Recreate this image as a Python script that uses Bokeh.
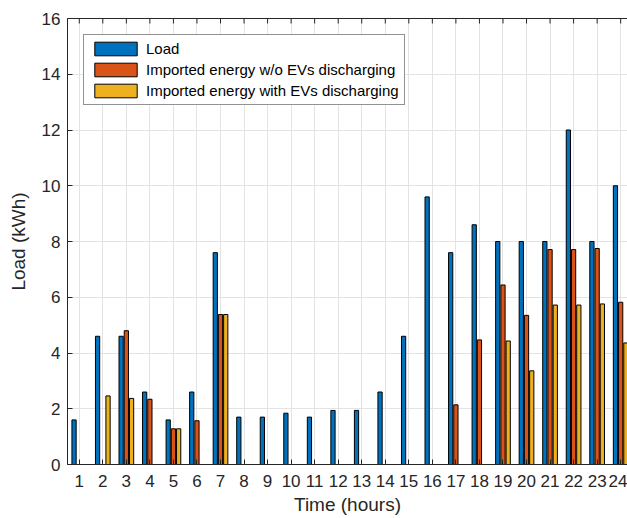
from bokeh.plotting import figure
from bokeh.models import ColumnDataSource, FixedTicker, LinearAxis, Range1d, Legend, LegendItem
from bokeh.transform import dodge
from bokeh.embed import file_html
from bokeh.resources import INLINE

# Hourly energy profile (kWh)
hours = list(range(1, 25))
load = [1.6, 4.6, 4.6, 2.6, 1.6, 2.6, 7.6, 1.7, 1.7, 1.84, 1.7, 1.94,
        1.94, 2.6, 4.6, 9.6, 7.6, 8.6, 8.0, 8.0, 8.0, 12.0, 8.0, 10.0]
imported_no_ev = [0, 0, 4.8, 2.34, 1.28, 1.57, 5.38, 0, 0, 0, 0, 0,
                  0, 0, 0, 0, 2.14, 4.47, 6.44, 5.35, 7.71, 7.71, 7.75, 5.82]
imported_with_ev = [0, 2.46, 2.37, 0, 1.28, 0, 5.38, 0, 0, 0, 0, 0,
                    0, 0, 0, 0, 0, 0, 4.43, 3.36, 5.72, 5.72, 5.76, 4.36]
y_ticks = [0, 2, 4, 6, 8, 10, 12, 14, 16]

series_names = ["Load", "Imported energy w/o EVs discharging",
                "Imported energy with EVs discharging"]
colors = ["#0072BD", "#D95319", "#EDB120"]

src = ColumnDataSource(dict(h=hours, load=load, no_ev=imported_no_ev, with_ev=imported_with_ev))

FONT = "Liberation Sans"
TXT = "#262626"
Y_MAX = y_ticks[-1]

p = figure(width=627, height=518, output_backend="svg", toolbar_location=None,
           x_range=Range1d(0.5, 24.29), y_range=Range1d(0, Y_MAX),
           min_border_left=67, min_border_right=0, min_border_top=18, min_border_bottom=54)
p.outline_line_color = None
p.background_fill_color = "white"

p.xgrid.ticker = FixedTicker(ticks=hours)
p.ygrid.ticker = FixedTicker(ticks=y_ticks)
p.xgrid.grid_line_color = "#e3e3e3"
p.ygrid.grid_line_color = "#e3e3e3"

offs = [-0.222, 0.0, 0.222]
renderers = []
for col, off, c in zip(["load", "no_ev", "with_ev"], offs, colors):
    r = p.vbar(x=dodge("h", off, range=p.x_range), top=col, width=0.18, source=src,
               fill_color=c, line_color="black", line_width=1)
    renderers.append(r)

# axes
p.xaxis.ticker = FixedTicker(ticks=hours)
p.yaxis.ticker = FixedTicker(ticks=y_ticks)
for ax in (p.xaxis[0], p.yaxis[0]):
    ax.axis_line_color = TXT
    ax.major_tick_line_color = TXT
    ax.major_tick_in = 5
    ax.major_tick_out = 0
    ax.minor_tick_line_color = None
    ax.major_label_text_font = FONT
    ax.major_label_text_font_size = "17px"
    ax.major_label_text_color = TXT
    ax.axis_label_text_font = FONT
    ax.axis_label_text_font_size = "19px"
    ax.axis_label_text_font_style = "normal"
    ax.axis_label_text_color = TXT
p.xaxis.axis_label = "Time (hours)"
p.yaxis.axis_label = "Load (kWh)"
p.xaxis.major_label_standoff = 10
p.yaxis.major_label_standoff = 7
p.xaxis.axis_label_standoff = 4
p.yaxis.axis_label_standoff = 10

# top box edge (line only) and its inward tick marks
top = LinearAxis(ticker=FixedTicker(ticks=[]), axis_line_color=TXT,
                 major_tick_line_color=None, minor_tick_line_color=None)
p.add_layout(top, "above")
tick_len = 5 * Y_MAX / (518 - 18 - 54)
p.segment(x0=hours, x1=hours, y0=[Y_MAX] * len(hours), y1=[Y_MAX - tick_len] * len(hours),
          line_color=TXT, line_width=1)

legend = Legend(items=[LegendItem(label=n, renderers=[r]) for n, r in zip(series_names, renderers)],
                location="top_left", margin=16,
                glyph_width=53, glyph_height=17, label_height=17, spacing=4, padding=5,
                label_standoff=4,
                label_text_font=FONT, label_text_font_size="15px", label_text_color="black",
                border_line_color=TXT, border_line_width=1, background_fill_alpha=1)
p.add_layout(legend)

open("out.html", "w").write(file_html(p, INLINE))
